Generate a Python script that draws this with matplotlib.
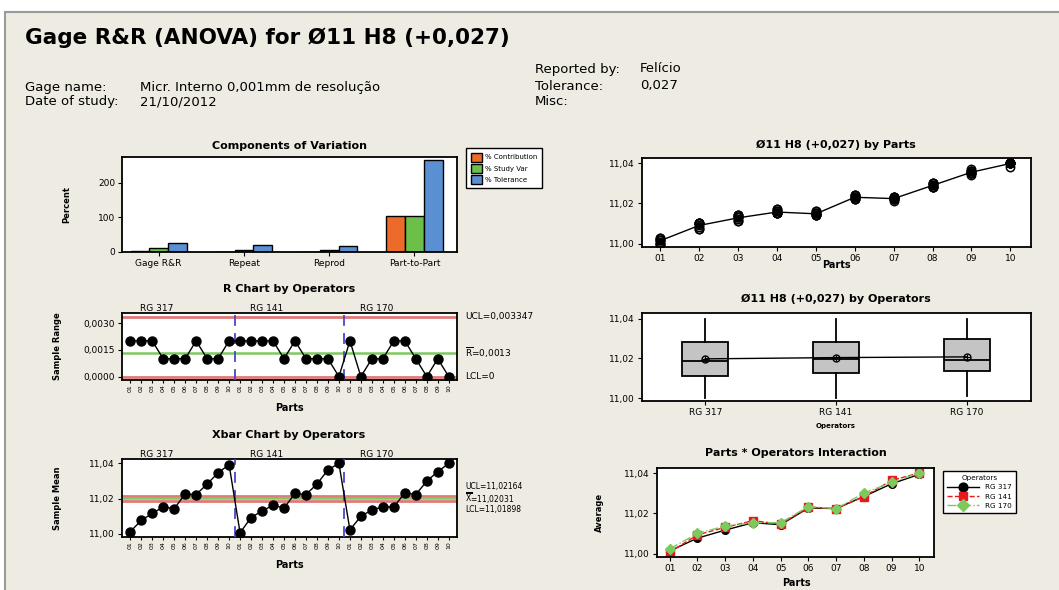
import numpy as np
import matplotlib
matplotlib.use("Agg")
import matplotlib.pyplot as plt
from matplotlib.patches import Rectangle

W, H = 1059, 590

parts = ["01", "02", "03", "04", "05", "06", "07", "08", "09", "10"]
operators = ["RG 317", "RG 141", "RG 170"]

# three trials per part (mm), one list per operator
rg317 = [[11.000, 11.002, 11.002], [11.007, 11.007, 11.009], [11.011, 11.011, 11.013],
         [11.015, 11.015, 11.016], [11.014, 11.014, 11.015], [11.022, 11.023, 11.023],
         [11.021, 11.023, 11.023], [11.028, 11.028, 11.029], [11.034, 11.035, 11.035],
         [11.038, 11.040, 11.040]]
rg141 = [[11.000, 11.000, 11.002], [11.008, 11.010, 11.010], [11.012, 11.013, 11.014],
         [11.015, 11.017, 11.017], [11.014, 11.015, 11.015], [11.022, 11.023, 11.024],
         [11.022, 11.022, 11.023], [11.028, 11.028, 11.029], [11.036, 11.036, 11.037],
         [11.040, 11.040, 11.040]]
rg170 = [[11.001, 11.003, 11.003], [11.010, 11.010, 11.010], [11.013, 11.014, 11.014],
         [11.015, 11.015, 11.016], [11.014, 11.016, 11.016], [11.022, 11.024, 11.024],
         [11.022, 11.022, 11.023], [11.030, 11.030, 11.030], [11.035, 11.035, 11.036],
         [11.040, 11.040, 11.040]]

components = ["Gage R&R", "Repeat", "Reprod", "Part-to-Part"]
pct_contribution = [1.5, 0.8, 0.6, 103]
pct_study_var = [12, 6, 5, 103]
pct_tolerance = [26, 21, 17, 264]

r_ucl = 0.003347
r_bar = 0.0013
x_ucl = 11.02164
x_bar = 11.02031
x_lcl = 11.01898

BG = "#EEEBE2"
ORANGE = "#EC6A2A"
GREEN = "#6CC04A"
BLUE = "#5A8FD2"
LRED = "#E07A7A"
LGREEN = "#7DC95E"
DBLUE = "#4848C8"

fig = plt.figure(figsize=(W / 100, H / 100), dpi=100)
fig.patch.set_facecolor("white")
bg = Rectangle((5 / W, -0.02), 1.0, 1 - 12 / H + 0.02, transform=fig.transFigure,
               facecolor=BG, edgecolor="#9A9A9A", lw=1.5, zorder=-10)
fig.patches.append(bg)


def px_axes(l, t, r, b):
    ax = fig.add_axes([l / W, 1 - b / H, (r - l) / W, (b - t) / H])
    ax.set_facecolor("white")
    for s in ax.spines.values():
        s.set_linewidth(1.3)
    ax.tick_params(labelsize=6.5, length=3, width=0.8, direction="out", pad=2)
    return ax


def ptext(x, y, s, **kw):
    fig.text(x / W, 1 - y / H, s, **kw)


# --- header ---
ptext(25, 38, "Gage R&R (ANOVA) for Ø11 H8 (+0,027)", fontsize=15.5, fontweight="bold", va="center")
ptext(25, 87, "Gage name:", fontsize=9.5, va="center")
ptext(140, 87, "Micr. Interno 0,001mm de resolução", fontsize=9.5, va="center")
ptext(25, 102, "Date of study:", fontsize=9.5, va="center")
ptext(140, 102, "21/10/2012", fontsize=9.5, va="center")
ptext(535, 69, "Reported by:", fontsize=9.5, va="center")
ptext(640, 69, "Felício", fontsize=9.5, va="center")
ptext(535, 86, "Tolerance:", fontsize=9.5, va="center")
ptext(640, 86, "0,027", fontsize=9.5, va="center")
ptext(535, 102, "Misc:", fontsize=9.5, va="center")

data = np.array([rg317, rg141, rg170])          # op, part, trial
means = data.mean(axis=2)
ranges = data.max(axis=2) - data.min(axis=2)

# --- components of variation ---
ax = px_axes(122, 157, 457, 252)
xc = np.arange(len(components))
bw = 0.22
for k, (vals, col, lab) in enumerate([(pct_contribution, ORANGE, "% Contribution"),
                                      (pct_study_var, GREEN, "% Study Var"),
                                      (pct_tolerance, BLUE, "% Tolerance")]):
    ax.bar(xc + (k - 1) * bw, vals, bw, color=col, edgecolor="black", lw=1, label=lab)
ax.set_xlim(-0.43, 3.5)
ax.set_ylim(0, 274)
ax.set_yticks([0, 100, 200])
ax.set_xticks(xc)
ax.set_xticklabels(components)
ax.set_ylabel("Percent", fontsize=6, fontweight="bold")
ax.yaxis.set_label_coords(-0.15, 0.5)
ax.legend(loc="upper left", bbox_to_anchor=(463 / W, 1 - 145 / H), bbox_transform=fig.transFigure,
          fontsize=5, frameon=True, fancybox=False, edgecolor="black", handlelength=1.6,
          handleheight=1.6, borderpad=0.6, labelspacing=0.35, handletextpad=0.5, framealpha=1)
ptext(289, 146, "Components of Variation", fontsize=8, fontweight="bold", ha="center", va="center")


def control_axes(t, b, vals, ylim, yt, ytl, limits, labels, title, title_y, offs, lsize):
    ax = px_axes(122, t, 457, b)
    x = np.arange(1, 31)
    ax.plot(x, vals, color="black", lw=1, marker="o", ms=6.5, zorder=4)
    ax.axhline(limits[0], color=LRED, lw=2, zorder=2)
    ax.axhline(limits[1], color=LGREEN, lw=1.8, zorder=2)
    ax.axhline(limits[2], color=LRED, lw=2, zorder=2)
    for d in [10.5, 20.5]:
        ax.axvline(d, color=DBLUE, lw=1.3, ls=(0, (6, 4)), zorder=3)
    ax.set_xlim(0.25, 30.75)
    ax.set_ylim(*ylim)
    ax.set_yticks(yt)
    ax.set_yticklabels(ytl)
    ax.set_xticks(x)
    ax.set_xticklabels(parts * 3, rotation=90, fontsize=4.5)
    ax.tick_params(axis="x", length=2, pad=1)
    for g, op in enumerate(operators):
        ax.text(g * 10 + 1.9, ylim[1], op, fontsize=6.5, ha="left", va="bottom")
    for lv, lab, off in zip(limits, labels, offs):
        ax.annotate(lab, (1.025, lv), xycoords=ax.get_yaxis_transform(),
                    xytext=(0, off), textcoords="offset points",
                    fontsize=lsize, ha="left", va="center")
    ptext(289, title_y, title, fontsize=8, fontweight="bold", ha="center", va="center")
    ptext(289, b + 28, "Parts", fontsize=7, fontweight="bold", ha="center", va="center")
    return ax


r_ax = control_axes(313, 380, ranges.ravel(), (-0.00019, 0.00356), [0, 0.0015, 0.003],
                    ["0,0000", "0,0015", "0,0030"], [r_ucl, r_bar, 0],
                    ["UCL=0,003347", r"$\overline{\mathrm{R}}$=0,0013", "LCL=0"],
                    "R Chart by Operators", 289, [0, 0, 0], 6.5)
r_ax.set_ylabel("Sample Range", fontsize=6, fontweight="bold")
r_ax.yaxis.set_label_coords(-0.18, 0.5)

x_ax = control_axes(459, 537, means.ravel(), (10.9983, 11.0425), [11.00, 11.02, 11.04],
                    ["11,00", "11,02", "11,04"], [x_ucl, x_bar, x_lcl],
                    ["UCL=11,02164", r"$\overline{\overline{\mathrm{X}}}$=11,02031", "LCL=11,01898"],
                    "Xbar Chart by Operators", 435, [6.5, 0, -6.5], 5.5)
x_ax.set_ylabel("Sample Mean", fontsize=6, fontweight="bold")
x_ax.yaxis.set_label_coords(-0.18, 0.5)

# --- by parts ---
ax = px_axes(642, 158, 1031, 247)
xp = np.arange(1, 11)
allv = data.transpose(1, 0, 2).reshape(10, -1)
for i in range(10):
    ax.plot(np.full(allv.shape[1], xp[i]), allv[i], ls="none", marker="o", ms=6,
            mfc="none", mec="black", mew=1.1)
ax.plot(xp, allv.mean(axis=1), color="black", lw=1, marker="o", ms=4, mfc="black")
ax.set_xlim(0.53, 10.53)
ax.set_ylim(10.9983, 11.0425)
ax.set_yticks([11.00, 11.02, 11.04])
ax.set_yticklabels(["11,00", "11,02", "11,04"])
ax.set_xticks(xp)
ax.set_xticklabels(parts)
ptext(836, 145, "Ø11 H8 (+0,027) by Parts", fontsize=8, fontweight="bold", ha="center", va="center")
ptext(836, 265, "Parts", fontsize=7, fontweight="bold", ha="center", va="center")

# --- by operators ---
ax = px_axes(642, 313, 1031, 401)
stats = []
for g, op in enumerate(operators):
    v = data[g].ravel()
    q1, med, q3 = np.percentile(v, [25, 50, 75], method="weibull")
    stats.append(dict(med=med, q1=q1, q3=q3, whislo=v.min(), whishi=v.max(),
                      fliers=[], label=op))
ax.bxp(stats, positions=[1, 2, 3], widths=0.35, patch_artist=True, showcaps=False,
       boxprops=dict(facecolor="#C4C4C4", edgecolor="black", lw=1.3),
       medianprops=dict(color="black", lw=1.3),
       whiskerprops=dict(color="black", lw=1.3))
op_means = data.reshape(3, -1).mean(axis=1)
ax.plot([1, 2, 3], op_means, color="black", lw=1, zorder=5)
ax.plot([1, 2, 3], op_means, ls="none", marker="o", ms=5, mfc="none", mec="black", mew=1, zorder=6)
ax.plot([1, 2, 3], op_means, ls="none", marker="+", ms=5, color="black", mew=0.8, zorder=6)
ax.set_xlim(0.516, 3.49)
ax.set_ylim(10.9985, 11.0429)
ax.set_yticks([11.00, 11.02, 11.04])
ax.set_yticklabels(["11,00", "11,02", "11,04"])
ax.set_xticks([1, 2, 3])
ax.set_xticklabels(operators)
ptext(836, 299, "Ø11 H8 (+0,027) by Operators", fontsize=8, fontweight="bold", ha="center", va="center")
ptext(836, 426, "Operators", fontsize=5, fontweight="bold", ha="center", va="center")

# --- interaction ---
ax = px_axes(657, 468, 934, 557)
styles = [dict(color="black", marker="o", ls="-"),
          dict(color="#E8191E", marker="s", ls="--"),
          dict(color=LGREEN, marker="D", ls="-.")]
for g, op in enumerate(operators):
    ax.plot(xp, means[g], lw=1, ms=5.5, label=op, **styles[g])
ax.set_xlim(0.54, 10.53)
ax.set_ylim(10.9983, 11.0425)
ax.set_yticks([11.00, 11.02, 11.04])
ax.set_yticklabels(["11,00", "11,02", "11,04"])
ax.set_xticks(xp)
ax.set_xticklabels(parts)
ax.set_ylabel("Average", fontsize=6, fontweight="bold")
ax.yaxis.set_label_coords(-0.19, 0.5)
ax.legend(loc="upper left", bbox_to_anchor=(939 / W, 1 - 467 / H), bbox_transform=fig.transFigure,
          title="Operators", title_fontsize=5.2, fontsize=5.2, frameon=True, fancybox=False,
          edgecolor="black", handlelength=4.5, borderpad=0.6, labelspacing=0.45, markerscale=1.15,
          framealpha=1)
ptext(796, 453, "Parts * Operators Interaction", fontsize=8, fontweight="bold", ha="center", va="center")
ptext(796, 583, "Parts", fontsize=7, fontweight="bold", ha="center", va="center")

fig.savefig("out.png", dpi=100, facecolor=fig.get_facecolor())
